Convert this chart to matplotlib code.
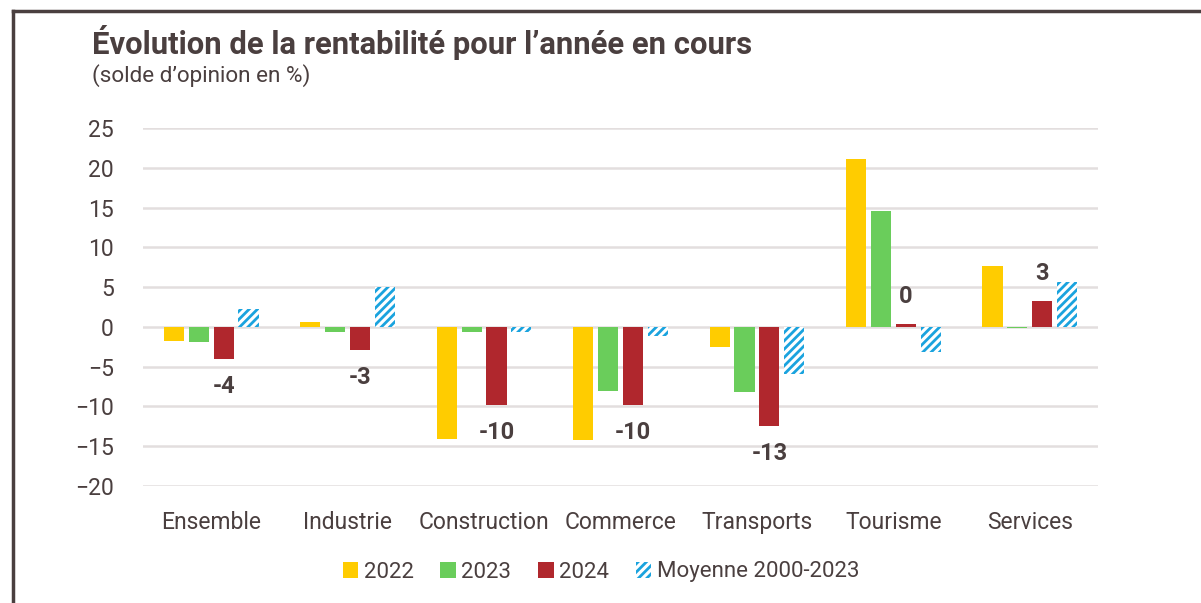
import matplotlib.pyplot as plt
from matplotlib.patches import Patch
from matplotlib.lines import Line2D
import numpy as np

plt.rcParams['font.family'] = ['Roboto', 'DejaVu Sans']
plt.rcParams['hatch.linewidth'] = 2.0

categories = ['Ensemble', 'Industrie', 'Construction', 'Commerce', 'Transports', 'Tourisme', 'Services']
v2022 = [-1.8, 0.6, -14.1, -14.2, -2.5, 21.1, 7.7]
v2023 = [-1.9, -0.7, -0.7, -8.0, -8.2, 14.6, -0.2]
v2024 = [-4.0, -2.9, -9.8, -9.8, -12.4, 0.4, 3.3]
moyenne = [2.3, 5.0, -0.7, -1.1, -5.9, -3.1, 5.7]
labels_2024 = ['-4', '-3', '-10', '-10', '-13', '0', '3']
yticks = [25, 20, 15, 10, 5, 0, -5, -10, -15, -20]

text_col = '#4a3f3f'
c2022, c2023, c2024, cavg = '#ffcc00', '#6acd5b', '#b0272d', '#1aa3de'

fig = plt.figure(figsize=(12.01, 6.03), dpi=100)
ax = fig.add_axes([143 / 1201, 1 - 486 / 603, (1098 - 143) / 1201, (486 - 128) / 603])

x = np.arange(len(categories))
w = 0.148
step = 0.182
ax.bar(x - 1.5 * step, v2022, w, color=c2022, zorder=3)
ax.bar(x - 0.5 * step, v2023, w, color=c2023, zorder=3)
ax.bar(x + 0.5 * step, v2024, w, color=c2024, zorder=3)
ax.bar(x + 1.5 * step, moyenne, w, color='white', edgecolor=cavg, hatch='////', linewidth=0, zorder=3)

# étiquettes 2024
for xi, v, lab in zip(x, v2024, labels_2024):
    off = 3.4 if v >= 0 else -3.5
    ax.text(xi + 0.5 * step, v + off, lab, ha='center', va='center',
            fontsize=17, fontweight='bold', color=text_col, zorder=4)

ax.set_xlim(-0.5, len(categories) - 0.5)
ax.set_ylim(-20, 25)
ax.set_yticks(yticks)
ax.set_yticklabels([str(t).replace('-', '\u2212') for t in yticks])
ax.set_xticks(x)
ax.set_xticklabels(categories)
ax.tick_params(axis='both', length=0, labelsize=16.5, colors=text_col)
ax.tick_params(axis='y', pad=21)
ax.tick_params(axis='x', pad=18)
ax.grid(axis='y', color='#e3dede', linewidth=1.8, zorder=0)
for s in ax.spines.values():
    s.set_visible(False)

fig.text(92 / 1201, 1 - 42 / 603, 'Évolution de la rentabilité pour l’année en cours', fontsize=22.3,
         fontweight='bold', color=text_col, va='center', ha='left')
fig.text(92 / 1201, 1 - 76 / 603, '(solde d’opinion en %)', fontsize=16.2, color=text_col, va='center', ha='left')

handles = [Patch(facecolor=c2022), Patch(facecolor=c2023), Patch(facecolor=c2024),
           Patch(facecolor='white', edgecolor=cavg, hatch='////', linewidth=0)]
fig.legend(handles, ['2022', '2023', '2024', 'Moyenne 2000-2023'], loc='center', ncol=4,
           bbox_to_anchor=(601 / 1201, 1 - 572 / 603), frameon=False, fontsize=16,
           handlelength=0.7, handleheight=0.7, handletextpad=0.25, columnspacing=1.2, labelcolor=text_col)

# cadre
fig.add_artist(Line2D([13 / 1201, 1], [1 - 11 / 603, 1 - 11 / 603], color='#4a3f3f', linewidth=2.5))
fig.add_artist(Line2D([13 / 1201, 13 / 1201], [0, 1 - 11 / 603], color='#4a3f3f', linewidth=2.5))

fig.savefig('out.png', dpi=100)
